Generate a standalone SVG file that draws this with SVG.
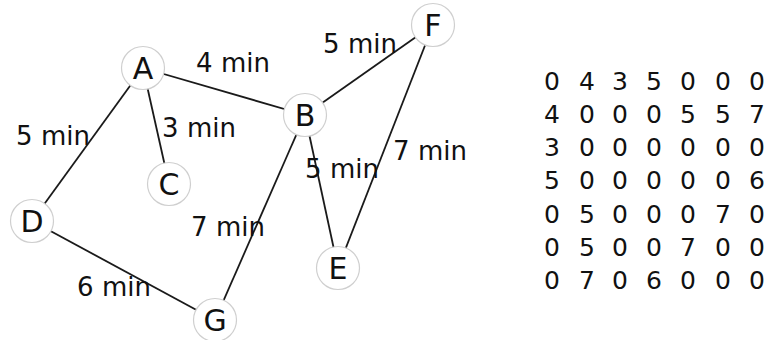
<svg xmlns="http://www.w3.org/2000/svg" width="779" height="340" viewBox="0 0 779 340">
<style>
.edge{stroke:#1a1a1a;stroke-width:1.8;fill:none}
.node circle{fill:#fff;stroke:#cfcfcf;stroke-width:1.2}
.node text{font-family:"DejaVu Sans",sans-serif;font-size:30px;fill:#111;text-anchor:middle}
.lbl{font-family:"DejaVu Sans",sans-serif;font-size:26px;fill:#111;text-anchor:middle}
.mx{font-family:"DejaVu Sans",sans-serif;font-size:25px;fill:#111;text-anchor:middle}
</style>
<rect width="779" height="340" fill="#fff"/>
<g id="connectors">
<line class="edge" x1="143" y1="68" x2="305" y2="115"/>
<line class="edge" x1="143" y1="68" x2="169" y2="184"/>
<line class="edge" x1="143" y1="68" x2="32" y2="221"/>
<line class="edge" x1="305" y1="115" x2="433" y2="25"/>
<line class="edge" x1="305" y1="115" x2="338" y2="268"/>
<line class="edge" x1="305" y1="115" x2="215" y2="320"/>
<line class="edge" x1="433" y1="25" x2="338" y2="268"/>
<line class="edge" x1="32" y1="221" x2="215" y2="320"/>
</g>
<g id="edge-labels">
<text class="lbl" x="233" y="72">4 min</text>
<text class="lbl" x="360" y="53">5 min</text>
<text class="lbl" x="199" y="137">3 min</text>
<text class="lbl" x="53" y="145">5 min</text>
<text class="lbl" x="342" y="178">5 min</text>
<text class="lbl" x="430" y="160">7 min</text>
<text class="lbl" x="228" y="236">7 min</text>
<text class="lbl" x="114" y="296">6 min</text>
</g>
<g id="node-A" class="node"><circle cx="143" cy="68" r="21.5"/><text x="143" y="79">A</text></g>
<g id="node-B" class="node"><circle cx="305" cy="115" r="21.5"/><text x="305" y="126">B</text></g>
<g id="node-C" class="node"><circle cx="169" cy="184" r="21.5"/><text x="169" y="195">C</text></g>
<g id="node-D" class="node"><circle cx="32" cy="221" r="21.5"/><text x="32" y="232">D</text></g>
<g id="node-E" class="node"><circle cx="338" cy="268" r="21.5"/><text x="338" y="279">E</text></g>
<g id="node-F" class="node"><circle cx="433" cy="25" r="21.5"/><text x="433" y="36">F</text></g>
<g id="node-G" class="node"><circle cx="215" cy="320" r="21.5"/><text x="215" y="331">G</text></g>
<g id="matrix" class="mx">
<text y="89.5"><tspan x="552">0</tspan><tspan x="587">4</tspan><tspan x="620">3</tspan><tspan x="654">5</tspan><tspan x="688">0</tspan><tspan x="723">0</tspan><tspan x="757">0</tspan></text>
<text y="122.7"><tspan x="552">4</tspan><tspan x="587">0</tspan><tspan x="620">0</tspan><tspan x="654">0</tspan><tspan x="688">5</tspan><tspan x="723">5</tspan><tspan x="757">7</tspan></text>
<text y="156"><tspan x="552">3</tspan><tspan x="587">0</tspan><tspan x="620">0</tspan><tspan x="654">0</tspan><tspan x="688">0</tspan><tspan x="723">0</tspan><tspan x="757">0</tspan></text>
<text y="189.2"><tspan x="552">5</tspan><tspan x="587">0</tspan><tspan x="620">0</tspan><tspan x="654">0</tspan><tspan x="688">0</tspan><tspan x="723">0</tspan><tspan x="757">6</tspan></text>
<text y="222.5"><tspan x="552">0</tspan><tspan x="587">5</tspan><tspan x="620">0</tspan><tspan x="654">0</tspan><tspan x="688">0</tspan><tspan x="723">7</tspan><tspan x="757">0</tspan></text>
<text y="255.7"><tspan x="552">0</tspan><tspan x="587">5</tspan><tspan x="620">0</tspan><tspan x="654">0</tspan><tspan x="688">7</tspan><tspan x="723">0</tspan><tspan x="757">0</tspan></text>
<text y="289"><tspan x="552">0</tspan><tspan x="587">7</tspan><tspan x="620">0</tspan><tspan x="654">6</tspan><tspan x="688">0</tspan><tspan x="723">0</tspan><tspan x="757">0</tspan></text>
</g>
</svg>
